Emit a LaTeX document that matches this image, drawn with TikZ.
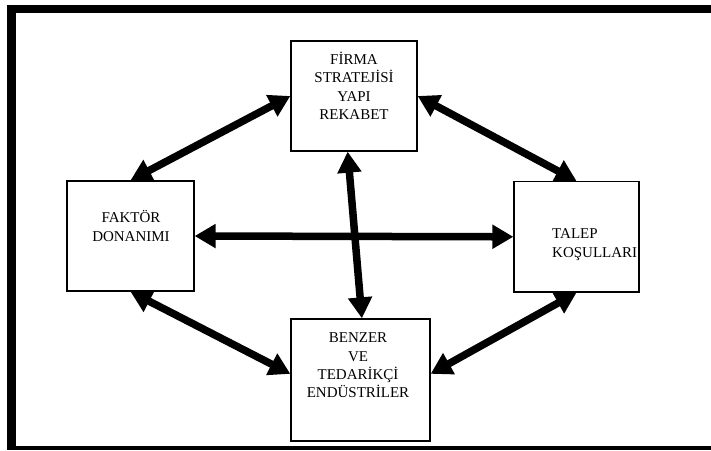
\documentclass[tikz,border=0pt]{standalone}
\usepackage{fontspec}
\setmainfont{Liberation Serif}
\usetikzlibrary{arrows.meta,calc}
\begin{document}
\begin{tikzpicture}[x=1pt,y=-1pt,
  box/.style={draw=black, line width=1.3pt, fill=white, inner sep=0pt},
  lbl/.style={inner sep=0pt, align=center, font=\fontsize{15}{18.4}\selectfont},
  link/.style={line width=7.5pt, {Triangle[length=21pt,width=23pt]}-{Triangle[length=21pt,width=23pt]}}]
  \useasboundingbox (0,0) rectangle (711,450);
  % outer frame
  \fill[black] (7,5) rectangle (711,450);
  \fill[white] (16,13) rectangle (711,446);

  % the four boxes
  \node[box, minimum width=126pt, minimum height=110pt] (tb) at (354,96) {};
  \node[box, minimum width=127pt, minimum height=110pt] (lb) at (130.5,236) {};
  \node[box, minimum width=125pt, minimum height=110.5pt] (rb) at (576.5,236.8) {};
  \node[box, minimum width=139pt, minimum height=122pt] (bb) at (360.5,380) {};

  % box texts
  \node[lbl] (tbt) at (354,86) {FİRMA\\STRATEJİSİ\\YAPI\\REKABET};
  \node[lbl] (lbt) at (131,226) {FAKTÖR\\DONANIMI};
  \node[lbl, align=left, anchor=west] (rbt) at (552,244.5) {TALEP\\KOŞULLARI};
  \node[lbl] (bbt) at (358,365.5) {BENZER\\VE\\TEDARİKÇİ\\ENDÜSTRİLER};

  % connections
  \draw[link] (lb.north) -- (tb.west);
  \draw[link] (tb.east) -- (rb.north);
  \draw[link] (lb.east) -- (rb.west);
  \draw[link] (lb.south) -- ($(bb.north west)!0.45!(bb.south west)$);
  \draw[link] (rb.south) -- ($(bb.north east)!0.45!(bb.south east)$);
  \draw[link] ($(tb.south west)!0.45!(tb.south east)$) -- ($(bb.north west)!0.51!(bb.north east)$);
\end{tikzpicture}
\end{document}
